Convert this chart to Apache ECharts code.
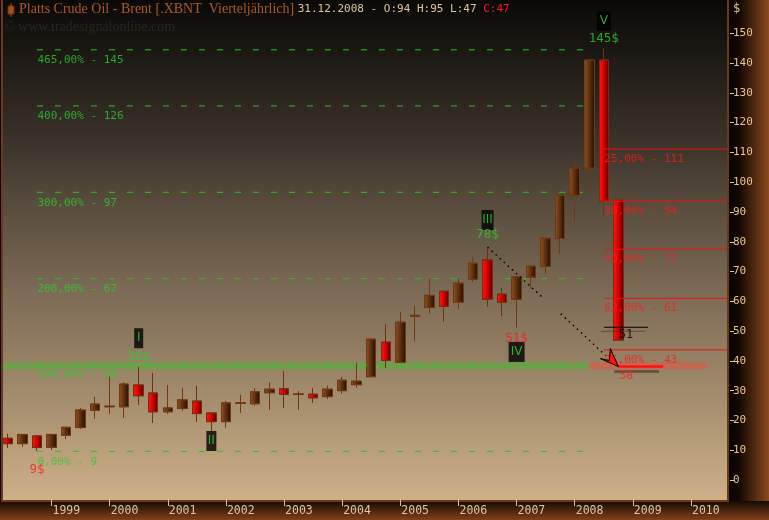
<!DOCTYPE html>
<html><head><meta charset="utf-8">
<script src="https://cdn.jsdelivr.net/npm/echarts@6/dist/echarts.min.js"></script>
<style>html,body{margin:0;padding:0;background:#0a0806}#c{width:769px;height:520px}</style>
</head><body><div id="c"></div>
<script>
// ---------- data ----------
const quarters = ['1998 Q2','1998 Q3','1998 Q4',
  '1999 Q1','1999 Q2','1999 Q3','1999 Q4',
  '2000 Q1','2000 Q2','2000 Q3','2000 Q4',
  '2001 Q1','2001 Q2','2001 Q3','2001 Q4',
  '2002 Q1','2002 Q2','2002 Q3','2002 Q4',
  '2003 Q1','2003 Q2','2003 Q3','2003 Q4',
  '2004 Q1','2004 Q2','2004 Q3','2004 Q4',
  '2005 Q1','2005 Q2','2005 Q3','2005 Q4',
  '2006 Q1','2006 Q2','2006 Q3','2006 Q4',
  '2007 Q1','2007 Q2','2007 Q3','2007 Q4',
  '2008 Q1','2008 Q2','2008 Q3','2008 Q4'];
const openP  = [14.0,12.2,14.8, 11.0,15.0,17.6,23.4, 24.6,24.6,31.9,29.2, 22.9,24.0,26.5,22.5, 19.6,25.8,25.6,29.3, 30.6,28.7,28.8,28.0, 30.0,32.0,34.7,46.3, 39.5,55.0,57.9,63.4, 59.7,67.4,73.9,62.4, 60.7,68.1,71.7,81.1, 95.6,104.7,141.0,94.0];
const closeP = [12.2,15.3,10.9, 15.3,17.7,23.5,25.5, 24.8,32.2,28.3,22.9, 24.2,26.9,22.3,19.6, 25.9,25.9,29.6,30.5, 28.8,28.9,27.6,30.5, 33.5,33.2,47.3,40.2, 53.0,55.3,62.0,58.3, 66.1,72.8,60.7,59.7, 68.2,71.8,81.2,95.6, 104.7,141.0,93.6,47.0];
const lowP   = [10.9,11.2,9.8, 10.1,13.8,17.2,20.6, 22.3,20.9,25.2,19.2, 22.3,23.3,19.6,16.5, 17.6,22.6,25.0,23.5, 24.3,23.5,26.0,27.2, 28.9,30.9,34.5,37.7, 39.3,46.8,55.9,53.2, 57.5,66.6,58.2,55.2, 51.3,64.4,69.4,76.1, 86.8,99.1,88.4,47.0];
const highP  = [15.5,15.3,15.1, 15.3,17.7,24.2,27.9, 34.7,32.8,38.0,35.8, 31.9,30.9,31.6,22.6, 26.4,28.6,30.8,32.9, 36.6,29.9,30.9,31.6, 34.6,39.3,47.6,52.4, 56.4,58.4,67.5,63.5, 67.5,74.9,78.2,64.5, 68.3,72.1,81.5,96.3, 108.0,141.2,145.0,95.0];

const yearTicks  = [1999,2000,2001,2002,2003,2004,2005,2006,2007,2008,2009,2010];
const priceTicks = [0,10,20,30,40,50,60,70,80,90,100,110,120,130,140,150];

// Fibonacci extension (green)
const extLevels = [9.6, 38.6, 67.6, 96.6, 125.6, 144.45];
const extLabels = ['0,00% - 9','100,00% - 38','200,00% - 67','300,00% - 97','400,00% - 126','465,00% - 145'];
const extFrom = '1998 Q4', extToYear = 2008.142;
// Fibonacci retracement (red)
const retLevels = [111.1, 93.6, 77.5, 61.0, 43.7];
const retLabels = ['25,00% - 111','38,00% - 94','50,00% - 77','62,00% - 61','75,00% - 43'];
const retFrom = '2008 Q3';

// Elliott wave boxes
const waveNames    = ['I','II','III','IV','V'];
const waveQuarters = ['2000 Q3','2001 Q4','2006 Q3','2007 Q1','2008 Q3'];
const waveValues   = [47.6, 13.1, 87.3, 43.0, 154.1];
const waveSizes    = [[9,20],[10,20],[12,20],[16,20],[14,19]];

// price notes
const noteTexts    = ['9$','38$','78$','51$','145$'];
const noteQuarters = ['1998 Q4','2000 Q3','2006 Q3','2007 Q1','2008 Q3'];
const noteValues   = [3.4, 41.3, 82.3, 47.5, 148.3];
const noteIsRed    = [true,false,false,true,false];

// support marks
const bandTop = 39.5, bandBottom = 37.2, bandSplitYear = 2008.245, bandEndYear = 2010.274;
const blackLevel = 51.3, blackFromYear = 2008.503, blackToYear = 2009.26, blackText = '51';
const redLevel = 38.1, redFromYear = 2008.75, redToYear = 2009.52, redText = '38';
const trend1 = [[2006.5, 78.2],[2007.43, 61.6]];
const trend2 = [[2007.76, 55.8],[2008.55, 41.5]];
const arrowTip = [2008.75, 38.1];

// ---------- chart ----------
const X_MIN = 1998.166, X_MAX = 2010.619;
const Y_MIN = -6.716, Y_MAX = 161.18;
const qx = q => { const p = q.split(' Q'); return +p[0] + (+p[1] - 1) / 4; };
const G = echarts.graphic;
const mono = 'DejaVu Sans Mono';
const greenTxt = '#2ecb2e', redTxt = '#ff1a1a';

const candleData = quarters.map((q, i) => [qx(q), openP[i], closeP[i], lowP[i], highP[i]]);

const series = [];
series.push({
  type: 'candlestick', data: candleData, encode: { x: 0, y: [1, 2, 3, 4] },
  barWidth: 10, z: 3, silent: true,
  itemStyle: {
    color: new G.LinearGradient(0, 0, 1, 0, [{offset: 0, color: '#945222'}, {offset: 0.5, color: '#5c2f10'}, {offset: 1, color: '#200e04'}]),
    color0: new G.LinearGradient(0, 0, 1, 0, [{offset: 0, color: '#ff1a10'}, {offset: 0.45, color: '#e00000'}, {offset: 1, color: '#4e0000'}]),
    borderColor: '#74380f', borderColor0: '#7a2c0e', borderWidth: 1
  }
});

// green extension lines
extLevels.forEach((v, i) => {
  const s = {
    type: 'line', data: [[qx(extFrom), v], [extToYear, v]], symbol: 'none', silent: true, z: 2,
    lineStyle: { color: '#25c625', width: 1, type: [6, 12] }
  };
  if (i === 1) {
    s.z = 4;
    s.markArea = {
      silent: true,
      data: [
        [{ xAxis: X_MIN, yAxis: bandTop, itemStyle: { color: 'rgba(70,185,50,0.5)' } }, { xAxis: bandSplitYear, yAxis: bandBottom }],
        [{ xAxis: bandSplitYear, yAxis: bandTop, itemStyle: { color: 'rgba(235,80,60,0.5)' } }, { xAxis: bandEndYear, yAxis: bandBottom }]
      ]
    };
  }
  series.push(s);
});
series.push({
  type: 'scatter', symbolSize: 1, silent: true, z: 5, itemStyle: { color: 'transparent' },
  data: extLevels.map((v, i) => ({ value: [qx(extFrom), v - 3.5],
    label: { show: true, position: 'right', distance: 0, formatter: extLabels[i], color: greenTxt, fontFamily: mono, fontSize: 11 } }))
});

// red retracement lines
retLevels.forEach(v => {
  series.push({ type: 'line', data: [[qx(retFrom), v], [X_MAX, v]], symbol: 'none', silent: true, z: 4,
    lineStyle: { color: '#f01010', width: 1 } });
});
series.push({
  type: 'scatter', symbolSize: 1, silent: true, z: 5, itemStyle: { color: 'transparent' },
  data: retLevels.map((v, i) => ({ value: [qx(retFrom), v - 3.4],
    label: { show: true, position: 'right', distance: 0, formatter: retLabels[i], color: redTxt, fontFamily: mono, fontSize: 11 } }))
});

// black & red short lines
series.push({ type: 'line', data: [[blackFromYear, blackLevel], [blackToYear, blackLevel]], symbol: 'none', silent: true, z: 5,
  lineStyle: { color: '#000', width: 1.2, shadowColor: 'rgba(55,45,35,0.6)', shadowBlur: 0, shadowOffsetX: -3, shadowOffsetY: 4 } });
series.push({ type: 'line', data: [[redFromYear, redLevel], [redToYear, redLevel]], symbol: 'none', silent: true, z: 5,
  lineStyle: { color: '#ff1010', width: 2.5, shadowColor: 'rgba(55,45,35,0.6)', shadowBlur: 0, shadowOffsetX: -4, shadowOffsetY: 5 } });
series.push({
  type: 'scatter', symbolSize: 1, silent: true, z: 6, itemStyle: { color: 'transparent' },
  data: [
    { value: [redFromYear, blackLevel - 2.6], label: { show: true, position: 'right', distance: 0, formatter: blackText, color: '#000', fontFamily: mono, fontSize: 12 } },
    { value: [redFromYear, redLevel - 3.3], label: { show: true, position: 'right', distance: 0, formatter: redText, color: redTxt, fontFamily: mono, fontSize: 12 } }
  ]
});

// dotted trend line
[trend1, trend2].forEach(seg => {
  series.push({ type: 'line', data: seg, symbol: 'none', silent: true, z: 5,
    lineStyle: { color: '#000', width: 1.5, type: [1.5, 4] } });
});

// wave boxes
series.push({
  type: 'scatter', symbol: 'rect', silent: true, z: 7, itemStyle: { color: '#000' },
  data: waveNames.map((n, i) => ({ value: [qx(waveQuarters[i]), waveValues[i]], symbolSize: waveSizes[i],
    label: { show: true, position: 'inside', formatter: n, color: '#3ad23a', fontFamily: 'DejaVu Sans', fontSize: 12 } }))
});
// price notes
series.push({
  type: 'scatter', symbolSize: 1, silent: true, z: 7, itemStyle: { color: 'transparent' },
  data: noteTexts.map((t, i) => ({ value: [qx(noteQuarters[i]), noteValues[i]],
    label: { show: true, position: 'inside', formatter: t, color: noteIsRed[i] ? redTxt : greenTxt, fontFamily: mono, fontSize: 12.5 } }))
});

const plotGrad = new G.LinearGradient(0, 0, 0, 1, [
  {offset: 0, color: '#0a0908'}, {offset: 0.1, color: '#1a1713'}, {offset: 0.3, color: '#3e352c'},
  {offset: 0.4, color: '#564a3c'}, {offset: 0.58, color: '#7b6a55'}, {offset: 0.8, color: '#a58e6e'}, {offset: 1, color: '#cfb189'}]);

const option = {
  backgroundColor: '#0a0806',
  animation: false,
  grid: { left: 3, right: 42, top: 0, bottom: 20 },
  xAxis: {
    type: 'value', min: X_MIN, max: X_MAX, position: 'bottom',
    splitLine: { show: false }, axisLine: { show: false, onZero: false },
    axisTick: { show: true, customValues: yearTicks, length: 6, lineStyle: { color: '#d9c3a3', width: 1 } },
    axisLabel: { customValues: yearTicks, formatter: v => String(Math.round(v)), align: 'left', margin: 5,
      color: '#dcc6a6', fontFamily: mono, fontSize: 11.5, padding: [0, 0, 0, 1] }
  },
  yAxis: {
    type: 'value', min: Y_MIN, max: Y_MAX, position: 'right', offset: 3,
    splitLine: { show: false }, axisLine: { show: false, onZero: false },
    axisTick: { show: true, customValues: priceTicks, length: 4, lineStyle: { color: '#e8c58e', width: 1 } },
    axisLabel: { customValues: priceTicks, margin: 3, color: '#e8c58e', fontFamily: mono, fontSize: 11 }
  },
  graphic: { elements: [
    { type: 'rect', z: -10, silent: true, shape: { x: 727, y: 0, width: 42, height: 502 },
      style: { fill: new G.LinearGradient(0, 0, 1, 0, [{offset: 0, color: '#030201'}, {offset: 0.3, color: '#140903'}, {offset: 1, color: '#8c4a1a'}]) } },
    { type: 'rect', z: -10, silent: true, shape: { x: 0, y: 501, width: 769, height: 19 },
      style: { fill: new G.LinearGradient(0, 0, 0, 1, [{offset: 0, color: '#150a03'}, {offset: 1, color: '#82401a'}]) } },
    { type: 'rect', z: -9, silent: true, shape: { x: 2, y: -2, width: 726, height: 503 },
      style: { fill: plotGrad, stroke: '#6e3a16', lineWidth: 2 } },
    { type: 'rect', z: 10, silent: true, shape: { x: 8, y: 6, width: 6, height: 8 }, style: { fill: '#a4501a', stroke: '#6a300c', lineWidth: 1 } },
    { type: 'line', z: 10, silent: true, shape: { x1: 11, y1: 3, x2: 11, y2: 17 }, style: { stroke: '#a4501a', lineWidth: 1 } },
    { type: 'text', z: 10, silent: true, left: 19, top: 2,
      style: { text: '{a|Platts Crude Oil - Brent [.XBNT  Vierteljährlich] }{b|31.12.2008 - O:94 H:95 L:47 }{c|C:47}',
        rich: {
          a: { fill: '#ad5a28', fontFamily: 'Liberation Serif', fontSize: 14 },
          b: { fill: '#e2c49c', fontFamily: mono, fontSize: 11 },
          c: { fill: '#ff1a1a', fontFamily: mono, fontSize: 11 }
        } } },
    { type: 'text', z: 10, silent: true, left: 4, top: 20,
      style: { text: '© www.tradesignalonline.com', fill: '#2c261e', fontFamily: 'Liberation Serif', fontSize: 14 } },
    { type: 'text', z: 10, silent: true, left: 733, top: 3,
      style: { text: '$', fill: '#e8c58e', fontFamily: mono, fontSize: 12 } }
  ] },
  series: series
};

const chart = echarts.init(document.getElementById('c'), null, { width: 769, height: 520 });
chart.setOption(option);

const tip = chart.convertToPixel({ xAxisIndex: 0, yAxisIndex: 0 }, arrowTip);
chart.setOption({ graphic: { elements: [
  { id: 'arrow', type: 'polygon', z: 20, silent: true, x: tip[0], y: tip[1],
    shape: { points: [[0, 0], [-18, -8], [-9, -6], [-8, -18]] },
    style: { fill: '#ff1010', stroke: '#000', lineWidth: 1 } }
] } });
</script>
</body></html>
